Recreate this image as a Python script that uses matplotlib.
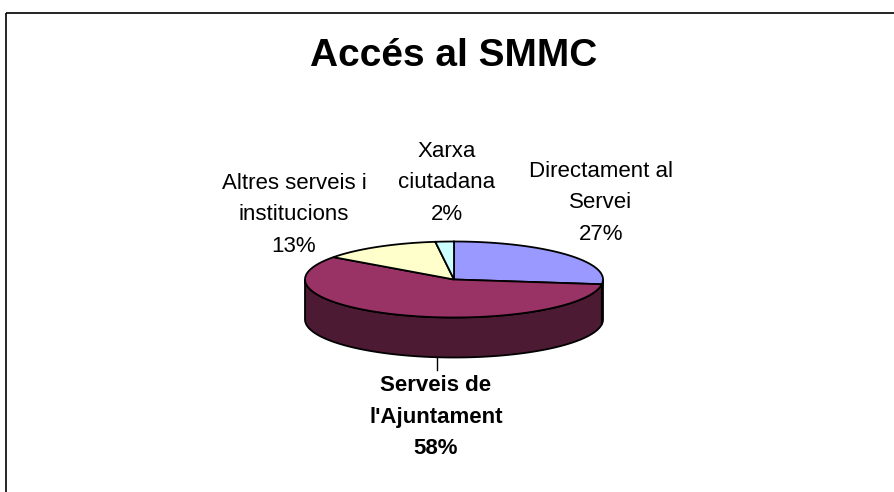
import numpy as np
import matplotlib.pyplot as plt
from matplotlib.patches import Polygon, Rectangle

plt.rcParams['font.family'] = ['Liberation Sans', 'DejaVu Sans']

# Data
labels = ['Directament al\nServei', "Serveis de\nl'Ajuntament",
          'Altres serveis i\ninstitucions', 'Xarxa\nciutadana']
values = [27, 58, 13, 2]
top_colors = ['#9999FF', '#993366', '#FFFFCC', '#CCFFFF']
side_colors = ['#4D4D80', '#4D1A33', '#80806A', '#6A8080']
label_pos = [(601, 203), (436, 417), (294, 215), (447, 183)]
bold = [False, True, False, False]

fig = plt.figure(figsize=(8.94, 4.92), dpi=100)
ax = fig.add_axes([0, 0, 1, 1])
ax.set_xlim(0, 894)
ax.set_ylim(492, 0)
ax.axis('off')

# chart frame (runs off the right/bottom edge)
ax.add_patch(Rectangle((5.5, 12.5), 900, 500, fill=False, ec='black', lw=1.2))

ax.text(454, 66, 'Accés al SMMC', ha='center', va='baseline',
        fontsize=28, fontweight='bold')

# 3D pie geometry
cx, cy, rx, ry, depth = 454, 279.5, 149, 38, 40


def pt(theta, dz=0):
    return cx + rx * np.cos(theta), cy - ry * np.sin(theta) + dz


fracs = np.array(values) / sum(values)
starts = np.pi / 2 - 2 * np.pi * np.concatenate([[0], np.cumsum(fracs)[:-1]])
ends = starts - 2 * np.pi * fracs

# side walls (front half only)
for s, e, c in zip(starts, ends, side_colors):
    a0, a1 = e % (2 * np.pi), s % (2 * np.pi)
    if a1 <= a0:
        a1 += 2 * np.pi
    for off in (0, -2 * np.pi, 2 * np.pi):
        lo, hi = max(a0 + off, np.pi), min(a1 + off, 2 * np.pi)
        if hi > lo:
            th = np.linspace(lo, hi, 80)
            top = np.array([pt(t) for t in th])
            bot = np.array([pt(t, depth) for t in th[::-1]])
            ax.add_patch(Polygon(np.vstack([top, bot]), closed=True,
                                 fc=c, ec='black', lw=1.3))

# top faces
for s, e, c in zip(starts, ends, top_colors):
    th = np.linspace(s, e, 150)
    arc = np.array([pt(t) for t in th])
    poly = np.vstack([[cx, cy], arc])
    ax.add_patch(Polygon(poly, closed=True, fc=c, ec='black', lw=1.3))

# leader line for the big slice
ax.plot([437, 437], [cy + ry + depth - 1, 370], color='black', lw=1)

for lab, v, (x, y), b in zip(labels, values, label_pos, bold):
    ax.text(x, y, f'{lab}\n{v}%', ha='center', va='center', fontsize=16,
            linespacing=1.65, fontweight='bold' if b else 'normal')

fig.savefig('out.png', dpi=100)
